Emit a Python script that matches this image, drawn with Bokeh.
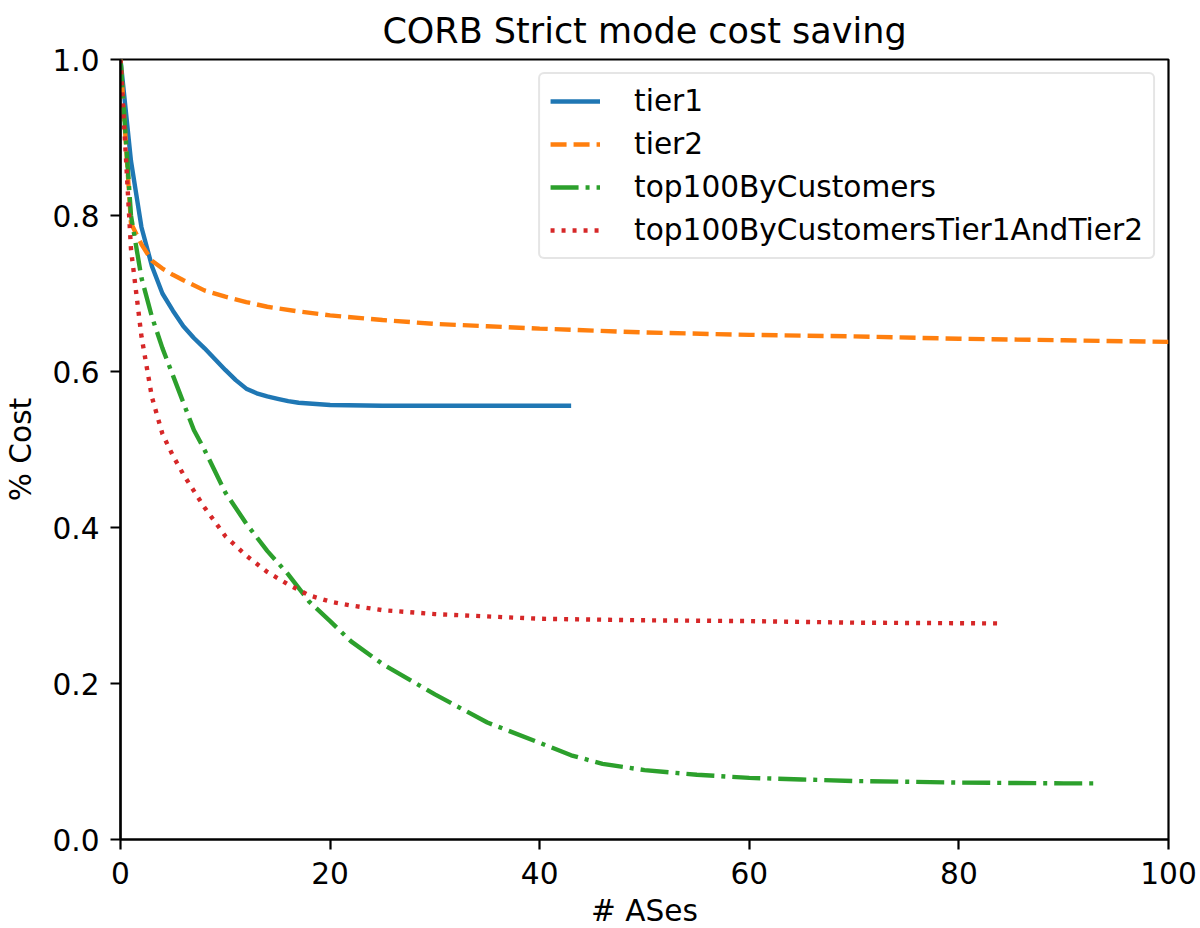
from bokeh.plotting import figure
from bokeh.models import FixedTicker, PrintfTickFormatter, Range1d
from bokeh.embed import file_html
from bokeh.resources import INLINE

# ---- data ----
tier1_x = [0, 1, 2, 3, 4, 5, 6, 7, 8, 9, 10, 11, 12, 13, 14, 15, 16, 17, 18, 19, 20, 25, 30, 35, 40, 43]
tier1_y = [1.0, 0.87, 0.785, 0.735, 0.700, 0.678, 0.658, 0.643, 0.630, 0.616, 0.602, 0.589, 0.578,
           0.572, 0.568, 0.565, 0.562, 0.560, 0.559, 0.558, 0.557, 0.556, 0.556, 0.556, 0.556, 0.556]

tier2_x = [0, 1, 2, 3, 4, 5, 6, 8, 10, 12, 14, 17, 20, 25, 30, 35, 40, 50, 60, 70, 80, 90, 100]
tier2_y = [1.0, 0.79, 0.763, 0.742, 0.732, 0.724, 0.717, 0.704, 0.696, 0.689, 0.683, 0.677, 0.672,
           0.666, 0.661, 0.658, 0.655, 0.650, 0.647, 0.645, 0.642, 0.640, 0.638]

top100_x = [0, 1, 2, 3, 4, 5, 6, 7, 8, 10, 12, 14, 16, 18, 20, 22, 25, 30, 35, 40, 43, 46, 50, 55,
            60, 65, 70, 80, 90, 93]
top100_y = [1.0, 0.80, 0.72, 0.67, 0.63, 0.595, 0.56, 0.525, 0.50, 0.445, 0.405, 0.37, 0.34, 0.305,
            0.28, 0.254, 0.225, 0.186, 0.150, 0.124, 0.108, 0.097, 0.089, 0.083, 0.079, 0.077, 0.075,
            0.073, 0.072, 0.072]

t12_x = [0, 1, 2, 3, 4, 5, 6, 8, 10, 12, 14, 16, 18, 20, 22, 25, 30, 35, 40, 50, 60, 70, 84]
t12_y = [1.0, 0.757, 0.645, 0.567, 0.52, 0.492, 0.468, 0.426, 0.389, 0.364, 0.343, 0.327, 0.313,
         0.305, 0.300, 0.294, 0.289, 0.286, 0.283, 0.281, 0.280, 0.278, 0.277]

x_ticks = [0, 20, 40, 60, 80, 100]
y_ticks = [0.0, 0.2, 0.4, 0.6, 0.8, 1.0]

FONT = "DejaVu Sans"
FS = "29.6px"

p = figure(width=1200, height=928, output_backend="svg", toolbar_location=None,
           frame_width=1048, frame_height=780,
           x_range=Range1d(0, 100), y_range=Range1d(0, 1.0),
           title="CORB Strict mode cost saving",
           min_border_left=120, min_border_right=32, min_border_top=58, min_border_bottom=90)

p.title.text_font = FONT
p.title.text_font_size = "35px"
p.title.text_font_style = "normal"
p.title.align = "center"
p.title.text_color = "black"
p.title.standoff = 17

lw = 4.4
p.line(tier1_x, tier1_y, color="#1f77b4", line_width=lw, legend_label="tier1")
p.line(tier2_x, tier2_y, color="#ff7f0e", line_width=lw, line_dash="16 7", legend_label="tier2")
p.line(top100_x, top100_y, color="#2ca02c", line_width=lw, line_dash="28 7 4 7",
       legend_label="top100ByCustomers")
p.line(t12_x, t12_y, color="#d62728", line_width=lw, line_dash="4 7",
       legend_label="top100ByCustomersTier1AndTier2")

p.xgrid.visible = False
p.ygrid.visible = False
p.outline_line_color = "black"
p.outline_line_width = 2.2
p.outline_line_alpha = 1.0
p.background_fill_color = "white"
p.border_fill_color = "white"

p.xaxis.ticker = FixedTicker(ticks=x_ticks)
p.yaxis.ticker = FixedTicker(ticks=y_ticks)
p.yaxis.formatter = PrintfTickFormatter(format="%.1f")
p.xaxis.formatter = PrintfTickFormatter(format="%d")

for ax in (p.xaxis, p.yaxis):
    ax.axis_line_color = "black"
    ax.axis_line_width = 2.2
    ax.major_tick_line_color = "black"
    ax.major_tick_line_width = 2.2
    ax.major_tick_out = 10
    ax.major_tick_in = 0
    ax.minor_tick_line_color = None
    ax.major_label_text_font = FONT
    ax.major_label_text_font_size = FS
    ax.major_label_text_color = "black"
    ax.axis_label_text_font = FONT
    ax.axis_label_text_font_size = FS
    ax.axis_label_text_font_style = "normal"
    ax.axis_label_text_color = "black"

p.xaxis.axis_label = "# ASes"
p.yaxis.axis_label = "% Cost"
p.xaxis.major_label_standoff = 12
p.xaxis.axis_label_standoff = 7
p.yaxis.major_label_standoff = 11
p.yaxis.axis_label_standoff = 11

lg = p.legend[0]
lg.location = "top_right"
lg.margin = 13
lg.padding = 10
lg.spacing = 9
lg.glyph_width = 50
lg.glyph_height = 32
lg.label_height = 32
lg.label_standoff = 34
lg.label_text_font = FONT
lg.label_text_font_size = FS
lg.label_text_color = "black"
lg.border_line_color = "#cccccc"
lg.border_line_width = 2
lg.background_fill_color = "white"
lg.background_fill_alpha = 0.8
try:
    lg.border_radius = 6
except Exception:
    pass

open("out.html", "w").write(file_html(p, INLINE))
